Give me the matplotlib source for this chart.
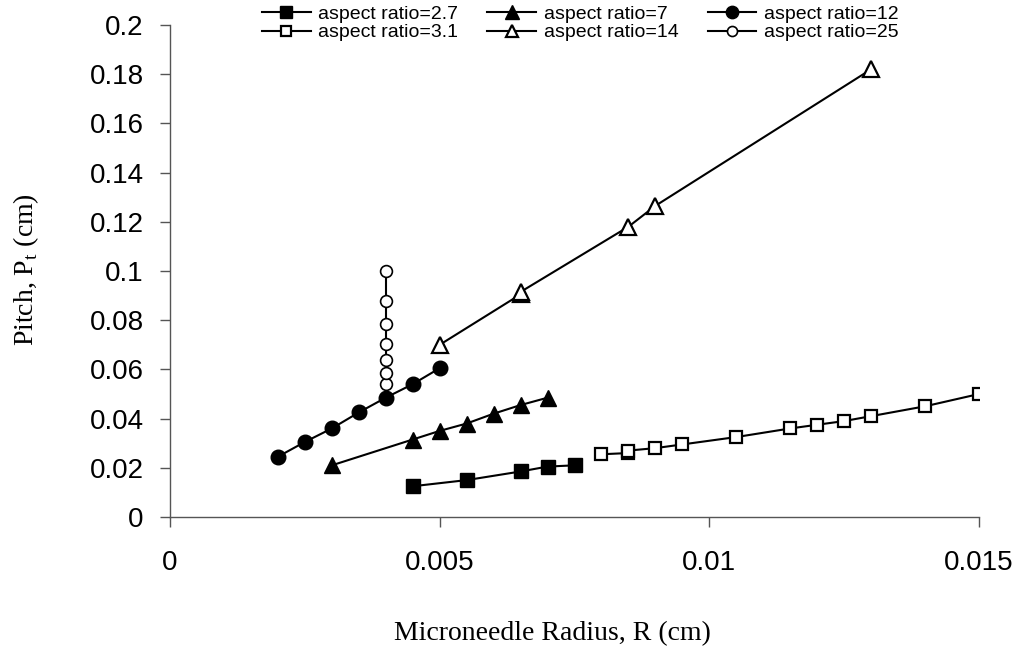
import matplotlib
matplotlib.use("Agg")
import matplotlib.pyplot as plt

# Data
x_27 = [0.0045, 0.0055, 0.0065, 0.007, 0.0075]
y_27 = [0.0125, 0.015, 0.0185, 0.0205, 0.021]

x_31 = [0.008, 0.0085, 0.0085, 0.009, 0.0095, 0.0105, 0.0115, 0.012, 0.0125, 0.013, 0.014, 0.015]
y_31 = [0.0255, 0.026, 0.027, 0.028, 0.0295, 0.0325, 0.036, 0.0375, 0.039, 0.041, 0.045, 0.05]

x_7 = [0.003, 0.0045, 0.005, 0.0055, 0.006, 0.0065, 0.007]
y_7 = [0.021, 0.0315, 0.035, 0.038, 0.042, 0.0455, 0.0485]

x_14 = [0.005, 0.0065, 0.0065, 0.0085, 0.009, 0.013]
y_14 = [0.07, 0.0905, 0.0915, 0.118, 0.1265, 0.182]

x_12 = [0.002, 0.0025, 0.003, 0.0035, 0.004, 0.0045, 0.005]
y_12 = [0.0245, 0.0305, 0.036, 0.0425, 0.0485, 0.054, 0.0605]

x_25 = [0.004, 0.004, 0.004, 0.004, 0.004, 0.004, 0.004]
y_25 = [0.054, 0.0585, 0.064, 0.0705, 0.0785, 0.088, 0.1]

x_ticks = [0, 0.005, 0.01, 0.015]
x_tick_labels = ["0", "0.005", "0.01", "0.015"]
y_ticks = [0, 0.02, 0.04, 0.06, 0.08, 0.1, 0.12, 0.14, 0.16, 0.18, 0.2]
y_tick_labels = ["0", "0.02", "0.04", "0.06", "0.08", "0.1", "0.12", "0.14", "0.16", "0.18", "0.2"]

plt.rcParams['font.family'] = ['Liberation Sans', 'DejaVu Sans']

fig = plt.figure(figsize=(10.29, 6.53), dpi=100)
ax = fig.add_axes([170/1029, 1 - 517/653, (979-170)/1029, (517-25)/653])

lw = 1.5
h27, = ax.plot(x_27, y_27, color='black', lw=lw, marker='s', ms=9.5, mfc='black', mec='black', label='aspect ratio=2.7')
h31, = ax.plot(x_31, y_31, color='black', lw=lw, marker='s', ms=8.5, mfc='white', mec='black', mew=1.6, label='aspect ratio=3.1')
h7, = ax.plot(x_7, y_7, color='black', lw=lw, marker='^', ms=12, mfc='black', mec='black', label='aspect ratio=7')
h14, = ax.plot(x_14, y_14, color='black', lw=lw, marker='^', ms=11, mfc='white', mec='black', mew=1.6, label='aspect ratio=14')
h12, = ax.plot(x_12, y_12, color='black', lw=lw, marker='o', ms=10.5, mfc='black', mec='black', label='aspect ratio=12')
h25, = ax.plot(x_25, y_25, color='black', lw=lw, marker='o', ms=8.5, mfc='white', mec='black', mew=1.2, label='aspect ratio=25')

ax.set_xlim(0, 0.015)
ax.set_ylim(0, 0.2)
ax.set_xticks(x_ticks)
ax.set_xticklabels(x_tick_labels)
ax.set_yticks(y_ticks)
ax.set_yticklabels(y_tick_labels)
ax.tick_params(axis='both', labelsize=20, direction='out', length=7, width=1, color='#555555')
ax.tick_params(axis='x', pad=16.5)
ax.tick_params(axis='y', pad=12)
for s in ['top', 'right']:
    ax.spines[s].set_visible(False)
for s in ['left', 'bottom']:
    ax.spines[s].set_color('#555555')
    ax.spines[s].set_linewidth(1)

serif = ['Liberation Serif', 'DejaVu Serif']
ax.set_xlabel('Microneedle Radius, R (cm)', fontsize=20, family=serif)
ax.xaxis.set_label_coords(0.473, -0.25)
ax.xaxis.label.set_va('baseline')
ax.set_ylabel('Pitch, P$_\\mathregular{t}$ (cm)', fontsize=20, family=serif)
ax.yaxis.set_label_coords(-0.16, 0.502)

handles = [h27, h31, h7, h14, h12, h25]
leg = fig.legend(handles=handles, labels=[h.get_label() for h in handles], ncol=3,
                 loc='upper center', bbox_to_anchor=(0.564, 1.013), frameon=False,
                 fontsize=14, handlelength=2.5, handletextpad=0.4, columnspacing=1.5,
                 labelspacing=0.05, borderpad=0.2, markerscale=0.85)

fig.savefig('out.png', dpi=100)
